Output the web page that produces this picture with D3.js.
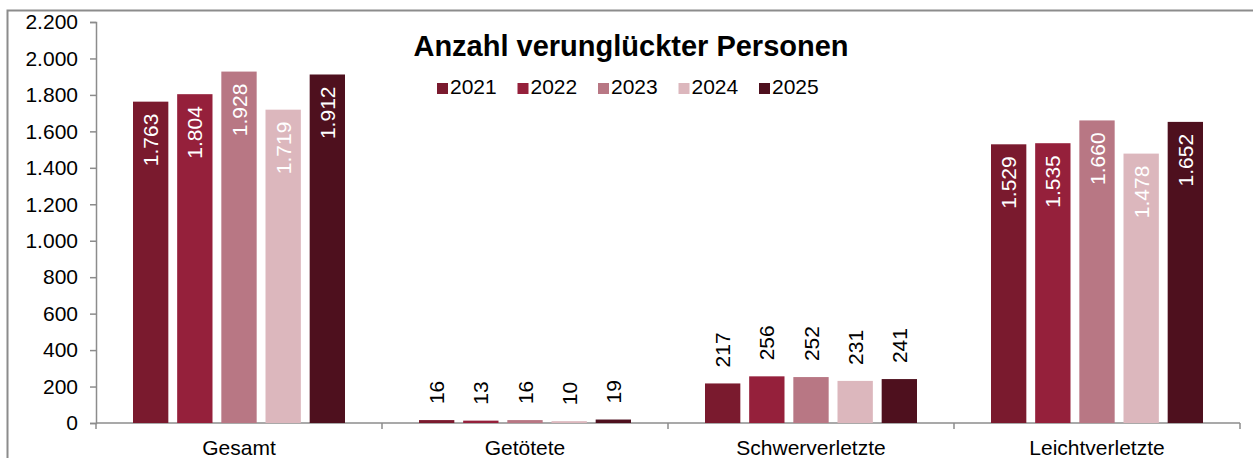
<!DOCTYPE html>
<html>
<head>
<meta charset="utf-8">
<script src="https://cdn.jsdelivr.net/npm/d3@7"></script>
<style>
  body { margin: 0; background: #fff; }
  svg text { font-family: "Liberation Sans", Arial, sans-serif; }
</style>
</head>
<body>
<div id="chart"></div>
<script>
let categories = ["Gesamt", "Getötete", "Schwerverletzte", "Leichtverletzte"];
let years = ["2021", "2022", "2023", "2024", "2025"];
let v2021 = [1763, 16, 217, 1529];
let v2022 = [1804, 13, 256, 1535];
let v2023 = [1928, 16, 252, 1660];
let v2024 = [1719, 10, 231, 1478];
let v2025 = [1912, 19, 241, 1652];
let colors = ["#7a1a2e", "#95203b", "#b87784", "#dcb7bd", "#4e101e"];
let yTicks = [0, 200, 400, 600, 800, 1000, 1200, 1400, 1600, 1800, 2000, 2200];

let width = 1253;
let height = 458;
let series = [v2021, v2022, v2023, v2024, v2025];

let de = d3.formatLocale({ decimal: ",", thousands: ".", grouping: [3], currency: ["", "€"] });
let fmt = de.format(",");

let svg = d3.select("#chart")
            .append("svg")
            .attr("width", width)
            .attr("height", height);

// outer frame
svg.append("rect")
   .attr("x", 7.5).attr("y", 10.5)
   .attr("width", 1300).attr("height", 500)
   .attr("fill", "none")
   .attr("stroke", "#8c8c8c")
   .attr("stroke-width", 2);

let xScale = d3.scaleBand()
               .domain(categories)
               .range([96, 1240]);

let inner = d3.scaleBand()
              .domain(years)
              .range([37, xScale.bandwidth() - 37])
              .paddingInner(0.2);

let yScale = d3.scaleLinear()
               .domain([0, 2200])
               .range([423, 22]);

// y axis
let yAxis = d3.axisLeft(yScale)
              .tickValues(yTicks)
              .tickFormat(fmt)
              .tickSize(6)
              .tickPadding(12);

let gy = svg.append("g")
            .attr("transform", "translate(96,0)")
            .call(yAxis);
gy.select(".domain").attr("stroke", "#8c8c8c").attr("stroke-width", 1.5);
gy.selectAll(".tick line").attr("stroke", "#8c8c8c").attr("stroke-width", 1.5);
gy.selectAll(".tick text").attr("font-size", 21).attr("fill", "#000");

// x axis with ticks at category borders
let gx = svg.append("g")
            .attr("transform", "translate(0,423)");
gx.append("line")
  .attr("x1", 96).attr("x2", 1240)
  .attr("stroke", "#8c8c8c").attr("stroke-width", 1.5);
let borders = categories.map(c => xScale(c)).concat([xScale.range()[1]]);
gx.selectAll(".border")
  .data(borders)
  .enter()
  .append("line")
  .attr("x1", d => d).attr("x2", d => d)
  .attr("y1", 0).attr("y2", 6)
  .attr("stroke", "#8c8c8c").attr("stroke-width", 1.5);
gx.selectAll(".cat")
  .data(categories)
  .enter()
  .append("text")
  .attr("x", d => xScale(d) + xScale.bandwidth() / 2)
  .attr("y", 32)
  .attr("text-anchor", "middle")
  .attr("font-size", 21)
  .text(d => d);

// bars
let groups = svg.selectAll(".year")
                .data(series)
                .enter()
                .append("g")
                .attr("fill", (d, i) => colors[i]);

groups.each(function(vals, i) {
  let g = d3.select(this);
  let yr = years[i];
  g.selectAll("rect")
   .data(vals)
   .enter()
   .append("rect")
   .attr("x", (d, j) => xScale(categories[j]) + inner(yr))
   .attr("y", d => yScale(d))
   .attr("width", inner.bandwidth())
   .attr("height", d => yScale(0) - yScale(d));

  g.selectAll("text")
   .data(vals)
   .enter()
   .append("text")
   .attr("transform", (d, j) => {
     let cx = xScale(categories[j]) + inner(yr) + inner.bandwidth() / 2;
     let ty = d > 1000 ? yScale(d) + 12 : yScale(d) - 16;
     return `translate(${cx + 7.5},${ty}) rotate(-90)`;
   })
   .attr("text-anchor", d => d > 1000 ? "end" : "start")
   .attr("font-size", 21)
   .attr("fill", d => d > 1000 ? "#fff" : "#000")
   .text(d => fmt(d));
});

// title
svg.append("text")
   .attr("x", 631)
   .attr("y", 56)
   .attr("text-anchor", "middle")
   .attr("font-size", 29)
   .attr("font-weight", "bold")
   .text("Anzahl verunglückter Personen");

// legend
let legend = svg.selectAll(".legend")
                .data(years)
                .enter()
                .append("g")
                .attr("transform", (d, i) => `translate(${437 + i * 80.5},83)`);
legend.append("rect")
      .attr("width", 11).attr("height", 11)
      .attr("fill", (d, i) => colors[i]);
legend.append("text")
      .attr("x", 13).attr("y", 11)
      .attr("font-size", 21)
      .text(d => d);
</script>
</body>
</html>
